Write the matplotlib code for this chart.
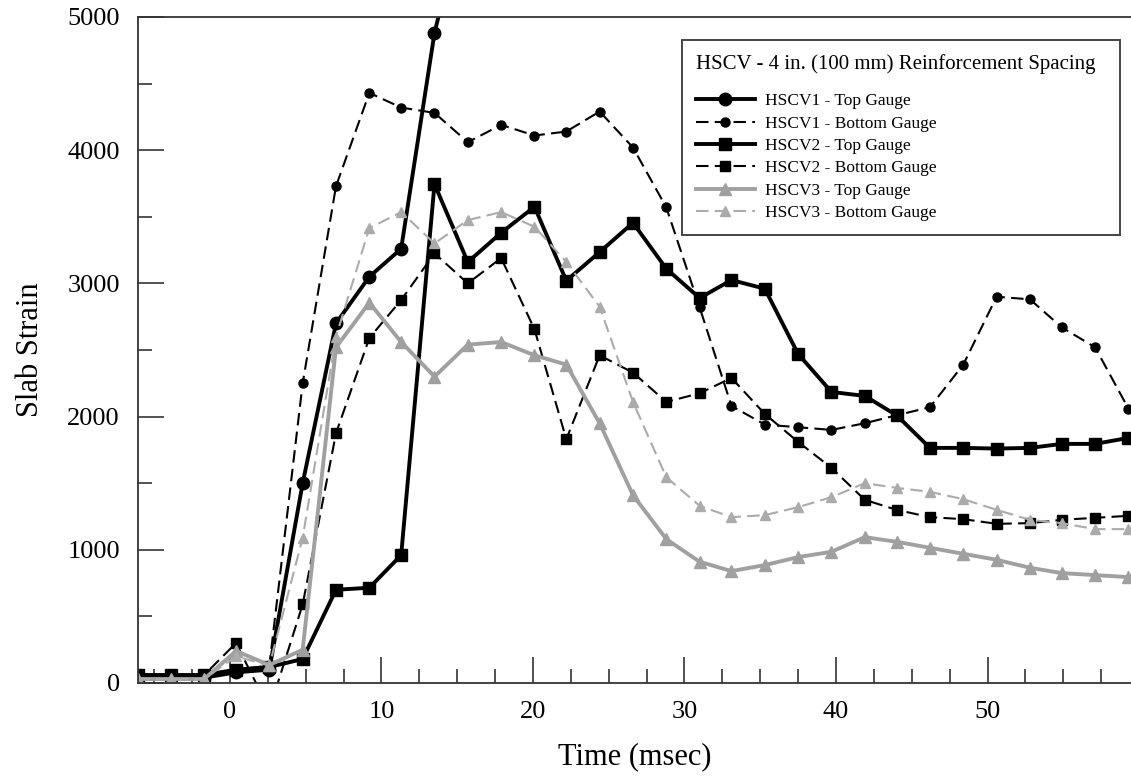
import matplotlib
matplotlib.use("Agg")
import matplotlib.pyplot as plt
from matplotlib.ticker import MultipleLocator

plt.rcParams["font.family"] = ["Liberation Serif", "DejaVu Serif"]

# sample times (msec)
time = [-6.1, -3.9, -1.7, 0.4, 2.6, 4.8, 7.0, 9.2, 11.3, 13.5, 15.7, 17.9, 20.1,
        22.2, 24.4, 26.6, 28.8, 31.0, 33.1, 35.3, 37.5, 39.7, 41.9, 44.0, 46.2,
        48.4, 50.6, 52.8, 54.9, 57.1, 59.3]

# HSCV1 top gauge fails after ~14 msec
hscv1_top = [40, 40, 40, 80, 100, 1500, 2700, 3050, 3260, 4880, 5900]
hscv1_bot = [40, 40, 40, 100, 130, 2250, 3730, 4430, 4320, 4280, 4060, 4190, 4110,
             4140, 4290, 4020, 3570, 2820, 2080, 1940, 1920, 1900, 1950, 2010, 2070,
             2390, 2900, 2880, 2670, 2520, 2060]
hscv2_top = [60, 60, 60, 100, 120, 180, 700, 715, 960, 3745, 3160, 3380, 3575,
             3020, 3235, 3455, 3110, 2890, 3025, 2960, 2470, 2185, 2155, 2010, 1765,
             1765, 1760, 1765, 1795, 1795, 1840]
hscv2_bot = [60, 60, 60, 300, -200, 590, 1875, 2590, 2875, 3225, 3000, 3190, 2655,
             1830, 2460, 2330, 2110, 2175, 2290, 2020, 1810, 1615, 1375, 1300, 1245,
             1230, 1195, 1200, 1225, 1240, 1255]
hscv3_top = [30, 30, 30, 240, 135, 250, 2520, 2855, 2560, 2300, 2540, 2560, 2460,
             2390, 1950, 1410, 1080, 910, 840, 885, 945, 985, 1095, 1060, 1015,
             970, 925, 865, 825, 810, 795]
hscv3_bot = [30, 30, 30, 200, 130, 1090, 2600, 3415, 3535, 3300, 3475, 3535, 3425,
             3160, 2825, 2110, 1545, 1330, 1245, 1260, 1320, 1395, 1500, 1465, 1435,
             1380, 1300, 1225, 1200, 1155, 1155]

labels = ["HSCV1 - Top Gauge", "HSCV1 - Bottom Gauge", "HSCV2 - Top Gauge",
          "HSCV2 - Bottom Gauge", "HSCV3 - Top Gauge", "HSCV3 - Bottom Gauge"]

fig = plt.figure(figsize=(11.31, 7.82), dpi=100)
ax = fig.add_axes([0.122, 0.1266, 0.878, 0.8517])

black = "#000000"
grey = "#a0a0a0"
lgrey = "#ababab"
dash = (6, 3)

ax.plot(time[:len(hscv1_top)], hscv1_top, color=black, lw=2.8, marker="o", ms=9,
        label=labels[0])
ax.plot(time, hscv1_bot, color=black, lw=1.5, ls="--", dashes=dash, marker="o", ms=6.5,
        label=labels[1])
ax.plot(time, hscv2_top, color=black, lw=2.8, marker="s", ms=9, label=labels[2])
ax.plot(time, hscv2_bot, color=black, lw=1.5, ls="--", dashes=dash, marker="s", ms=6.5,
        label=labels[3])
ax.plot(time, hscv3_top, color=grey, lw=2.8, marker="^", ms=9, label=labels[4])
ax.plot(time, hscv3_bot, color=lgrey, lw=1.5, ls="--", dashes=dash, marker="^", ms=7,
        label=labels[5])

ax.set_xlim(-6.07, 59.47)
ax.set_ylim(0, 5000)
ax.xaxis.set_major_locator(MultipleLocator(10))
ax.xaxis.set_minor_locator(MultipleLocator(2.5))
ax.yaxis.set_major_locator(MultipleLocator(1000))
ax.yaxis.set_minor_locator(MultipleLocator(500))
ax.tick_params(which="both", direction="in", width=1.1, color="#222222",
               labelsize=19, top=False, right=False)
ax.tick_params(which="major", length=19, pad=13)
ax.tick_params(which="minor", length=10)

ax.spines["right"].set_visible(False)
for s in ["left", "bottom", "top"]:
    ax.spines[s].set_linewidth(1.3)
    ax.spines[s].set_color("#333333")

ax.set_xlabel("Time (msec)", fontsize=22, labelpad=14)
ax.set_ylabel("Slab Strain", fontsize=22, labelpad=16)

leg = ax.legend(loc="upper left", bbox_to_anchor=(0.603, 0.949, 0.387, 0.0),
                bbox_transform=fig.transFigure, mode="expand",
                title="HSCV - 4 in. (100 mm) Reinforcement Spacing",
                title_fontsize=15, fontsize=12.5, alignment="left",
                handlelength=3.4, handletextpad=0.6, labelspacing=0.36,
                borderpad=0.8, fancybox=False, framealpha=1,
                edgecolor="#444444", borderaxespad=0)
leg.get_frame().set_linewidth(1.4)
# wider gap between the legend title and the entries
leg._legend_box.sep = 14

fig.savefig("out.png", dpi=100)
